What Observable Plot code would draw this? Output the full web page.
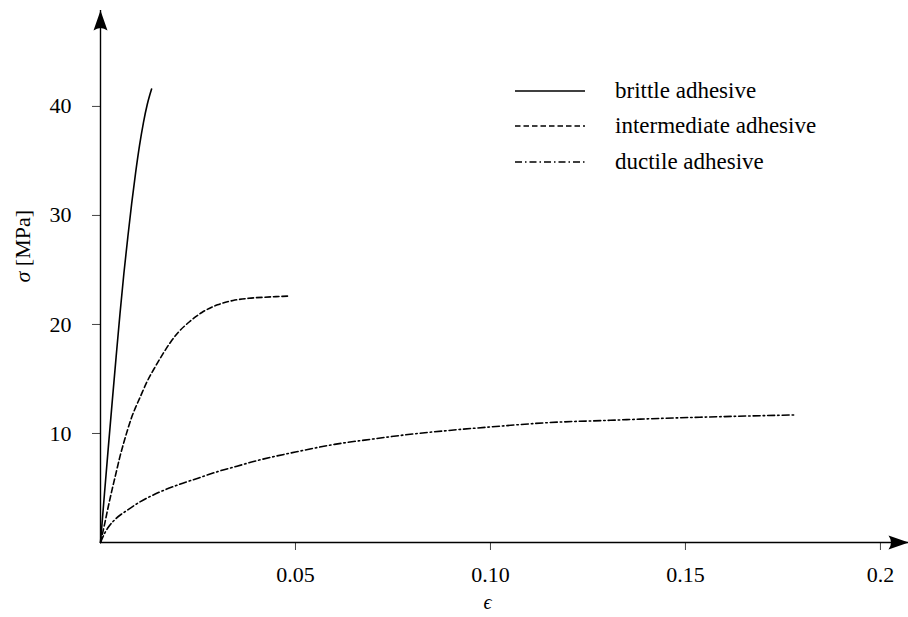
<!DOCTYPE html>
<html>
<head>
<meta charset="utf-8">
<script src="https://cdn.jsdelivr.net/npm/d3@7"></script>
<script src="https://cdn.jsdelivr.net/npm/@observablehq/plot@0.6"></script>
<style>
  html, body { margin: 0; padding: 0; background: white; }
  #wrap { position: relative; width: 908px; height: 617px; font-family: 'Liberation Serif', serif; }
  #legend { position: absolute; left: 515px; top: 73px; }
  .row { display: flex; align-items: center; height: 35.5px; font-size: 23px; color: black; }
  .row svg { margin-right: 30px; }
</style>
</head>
<body>
<div id="wrap"></div>
<script>
// ---- data ----
const brittleStrain = [0, 0.001, 0.002, 0.003, 0.004, 0.005, 0.006, 0.007, 0.008, 0.009, 0.010, 0.011, 0.012, 0.0131];
const brittleStress = [0, 4.4, 8.7, 12.9, 17.0, 21.0, 24.7, 28.0, 31.1, 33.9, 36.4, 38.5, 40.2, 41.6];

const intermediateStrain = [0, 0.001, 0.002, 0.003, 0.004, 0.005, 0.006, 0.007, 0.008, 0.009, 0.010, 0.012, 0.014, 0.016, 0.018, 0.020, 0.023, 0.026, 0.030, 0.034, 0.038, 0.042, 0.045, 0.048];
const intermediateStress = [0, 1.6, 3.3, 4.9, 6.4, 7.9, 9.2, 10.4, 11.5, 12.4, 13.2, 14.8, 16.1, 17.3, 18.4, 19.3, 20.3, 21.1, 21.8, 22.2, 22.4, 22.5, 22.55, 22.6];

const ductileStrain = [0, 0.001, 0.002, 0.004, 0.007, 0.010, 0.015, 0.020, 0.025, 0.030, 0.035, 0.040, 0.050, 0.060, 0.070, 0.080, 0.090, 0.100, 0.115, 0.130, 0.145, 0.160, 0.178];
const ductileStress = [0, 0.8, 1.4, 2.2, 3.0, 3.7, 4.6, 5.3, 5.9, 6.5, 7.0, 7.5, 8.3, 9.0, 9.5, 9.95, 10.3, 10.6, 11.0, 11.2, 11.4, 11.55, 11.7];

const seriesNames = ["brittle adhesive", "intermediate adhesive", "ductile adhesive"];
const seriesDash = ["none", "5.5,3", "7,3,1.5,3"];

const xTicks = [0.05, 0.10, 0.15, 0.2];
const xTickLabels = ["0.05", "0.10", "0.15", "0.2"];
const yTicks = [10, 20, 30, 40];
const xLabel = "ϵ";
const yLabel = "σ [MPa]";
const xMax = 0.2072;
const yMax = 48.8;

// ---- build tables ----
const toRows = (xs, ys) => xs.map((x, i) => ({strain: x, stress: ys[i]}));
const brittle = toRows(brittleStrain, brittleStress);
const intermediate = toRows(intermediateStrain, intermediateStress);
const ductile = toRows(ductileStrain, ductileStress);

// filled arrow head (tip at the point, body pointing "down")
const arrowHead = {
  draw(ctx) {
    ctx.moveTo(0, 0);
    ctx.lineTo(7, 20);
    ctx.quadraticCurveTo(0, 15, -7, 20);
    ctx.closePath();
  }
};

const plot = Plot.plot({
  width: 908,
  height: 617,
  marginLeft: 100,
  marginRight: 0,
  marginTop: 10,
  marginBottom: 75,
  x: {domain: [0, xMax]},
  y: {domain: [0, yMax]},
  style: {fontFamily: "'Liberation Serif', serif", fontSize: "22px", background: "white", color: "black"},
  marks: [
    Plot.axisX({ticks: xTicks, tickFormat: d => xTickLabels[xTicks.indexOf(d)], tickSize: 8, tickPadding: 16, label: null, fontSize: 22, stroke: "#444"}),
    Plot.axisY({ticks: yTicks, tickSize: 8, tickPadding: 21, label: null, fontSize: 22, stroke: "#444"}),
    Plot.ruleX([0], {stroke: "black", strokeWidth: 1.4}),
    Plot.ruleY([0], {stroke: "black", strokeWidth: 1.4}),
    Plot.dot([{x: 0, y: yMax}], {x: "x", y: "y", symbol: arrowHead, fill: "black", stroke: "none", r: 5}),
    Plot.dot([{x: xMax, y: 0}], {x: "x", y: "y", symbol: arrowHead, fill: "black", stroke: "none", r: 5, rotate: 90}),
    Plot.line(brittle, {x: "strain", y: "stress", stroke: "black", strokeWidth: 1.6, curve: "monotone-x"}),
    Plot.line(intermediate, {x: "strain", y: "stress", stroke: "black", strokeWidth: 1.6, strokeDasharray: seriesDash[1], curve: "monotone-x"}),
    Plot.line(ductile, {x: "strain", y: "stress", stroke: "black", strokeWidth: 1.6, strokeDasharray: seriesDash[2], curve: "monotone-x"}),
    Plot.text([xLabel], {frameAnchor: "bottom", dx: -17, dy: 66, fontSize: 20, fontStyle: "italic"}),
    Plot.text([yLabel], {frameAnchor: "left", dx: -78, dy: 6, rotate: -90, fontSize: 22, className: "ylab"})
  ]
});

const wrap = document.getElementById("wrap");
wrap.appendChild(plot);

// italic sigma in the y label
d3.select(plot).selectAll("text").each(function() {
  const t = d3.select(this);
  if (t.text() === yLabel) {
    t.text(null);
    t.append("tspan").attr("font-style", "italic").text("σ");
    t.append("tspan").text(" [MPa]");
  }
});

// legend
const legend = document.createElement("div");
legend.id = "legend";
seriesNames.forEach((name, i) => {
  const row = document.createElement("div");
  row.className = "row";
  const svg = d3.create("svg").attr("width", 70).attr("height", 10);
  svg.append("line").attr("x1", 0).attr("x2", 70).attr("y1", 5).attr("y2", 5)
    .attr("stroke", "black").attr("stroke-width", 1.6)
    .attr("stroke-dasharray", seriesDash[i]);
  row.appendChild(svg.node());
  const span = document.createElement("span");
  span.textContent = name;
  row.appendChild(span);
  legend.appendChild(row);
});
wrap.appendChild(legend);
</script>
</body>
</html>
